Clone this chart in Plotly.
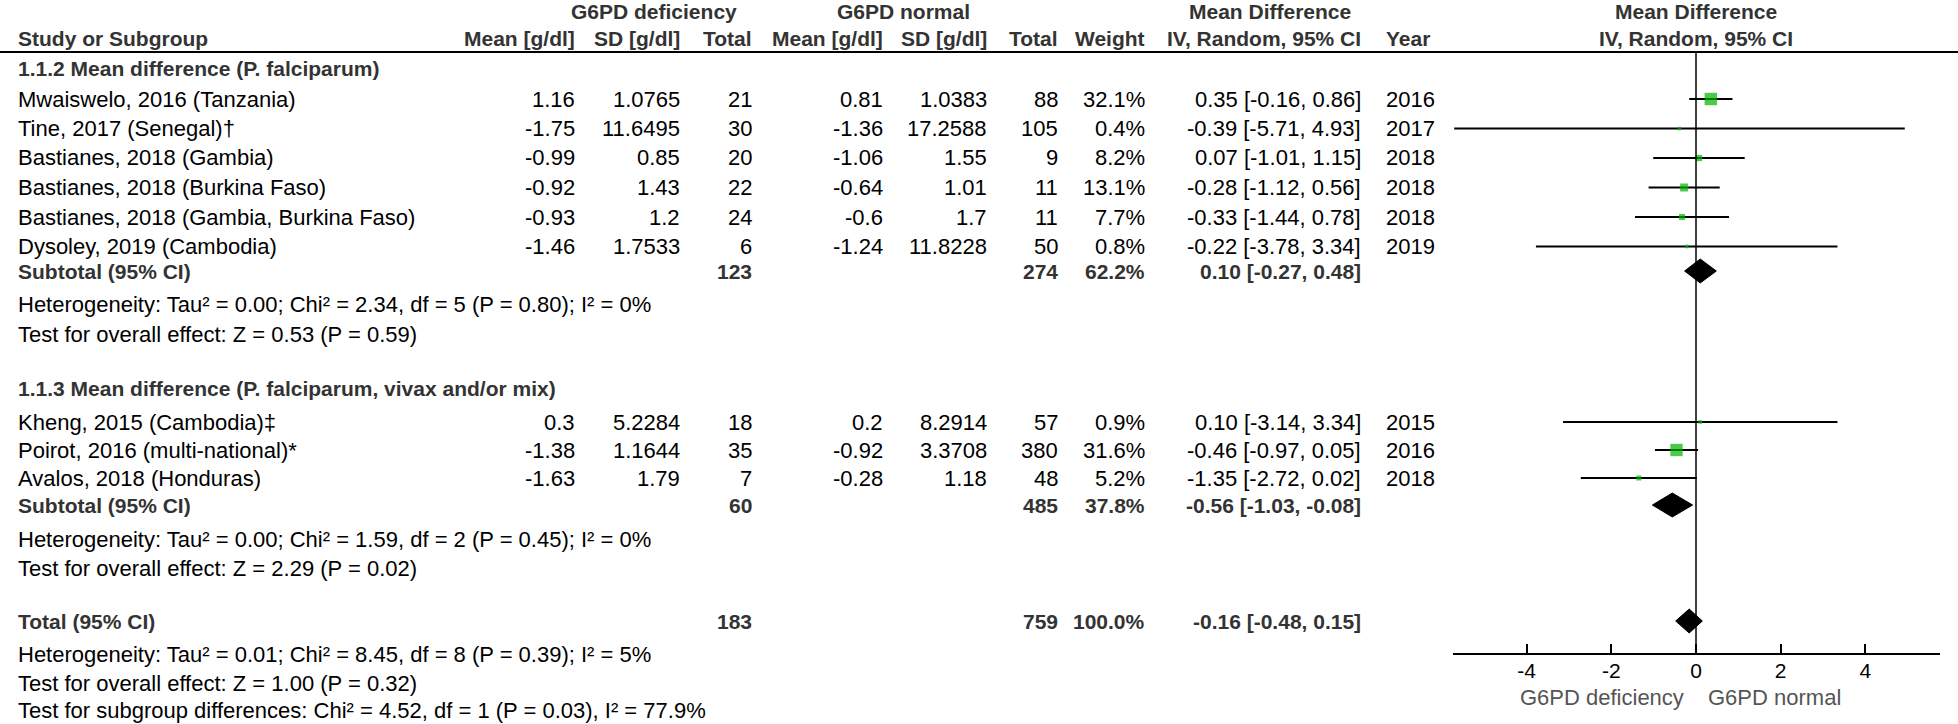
import plotly.graph_objects as go

W, H = 1958, 724

# ---------------- data ----------------
studies = ["Mwaiswelo, 2016 (Tanzania)", "Tine, 2017 (Senegal)†", "Bastianes, 2018 (Gambia)",
           "Bastianes, 2018 (Burkina Faso)", "Bastianes, 2018 (Gambia, Burkina Faso)",
           "Dysoley, 2019 (Cambodia)",
           "Kheng, 2015 (Cambodia)‡", "Poirot, 2016 (multi-national)*", "Avalos, 2018 (Honduras)"]
def_mean = ["1.16", "-1.75", "-0.99", "-0.92", "-0.93", "-1.46", "0.3", "-1.38", "-1.63"]
def_sd = ["1.0765", "11.6495", "0.85", "1.43", "1.2", "1.7533", "5.2284", "1.1644", "1.79"]
def_n = [21, 30, 20, 22, 24, 6, 18, 35, 7]
norm_mean = ["0.81", "-1.36", "-1.06", "-0.64", "-0.6", "-1.24", "0.2", "-0.92", "-0.28"]
norm_sd = ["1.0383", "17.2588", "1.55", "1.01", "1.7", "11.8228", "8.2914", "3.3708", "1.18"]
norm_n = [88, 105, 9, 11, 11, 50, 57, 380, 48]
weight = [32.1, 0.4, 8.2, 13.1, 7.7, 0.8, 0.9, 31.6, 5.2]
md = [0.35, -0.39, 0.07, -0.28, -0.33, -0.22, 0.10, -0.46, -1.35]
ci_lo = [-0.16, -5.71, -1.01, -1.12, -1.44, -3.78, -3.14, -0.97, -2.72]
ci_hi = [0.86, 4.93, 1.15, 0.56, 0.78, 3.34, 3.34, 0.05, 0.02]
year = [2016, 2017, 2018, 2018, 2018, 2019, 2015, 2016, 2018]

group_titles = ["1.1.2 Mean difference (P. falciparum)",
                "1.1.3 Mean difference (P. falciparum, vivax and/or mix)"]
sub_def_n = [123, 60]
sub_norm_n = [274, 485]
sub_weight = [62.2, 37.8]
sub_md = [0.10, -0.56]
sub_lo = [-0.27, -1.03]
sub_hi = [0.48, -0.08]
sub_het = ["Heterogeneity: Tau² = 0.00; Chi² = 2.34, df = 5 (P = 0.80); I² = 0%",
           "Heterogeneity: Tau² = 0.00; Chi² = 1.59, df = 2 (P = 0.45); I² = 0%"]
sub_test = ["Test for overall effect: Z = 0.53 (P = 0.59)",
            "Test for overall effect: Z = 2.29 (P = 0.02)"]

tot_def_n, tot_norm_n, tot_weight = 183, 759, 100.0
tot_md, tot_lo, tot_hi = -0.16, -0.48, 0.15
tot_notes = ["Heterogeneity: Tau² = 0.01; Chi² = 8.45, df = 8 (P = 0.39); I² = 5%",
             "Test for overall effect: Z = 1.00 (P = 0.32)",
             "Test for subgroup differences: Chi² = 4.52, df = 1 (P = 0.03), I² = 77.9%"]

ticks = [-4, -2, 0, 2, 4]
fav_left, fav_right = "G6PD deficiency", "G6PD normal"

# ---------------- layout (pixels) ----------------
FONT = "Liberation Sans, Arial, sans-serif"
FS = 22      # regular text
FB = 21      # bold text
BLACK, GREY, GREEN = "#000000", "#333333", "#00b400"
AXIS_Y = 653
col_right = {"dm": 577, "dsd": 682, "dn": 754, "nm": 885, "nsd": 989, "nn": 1060,
             "w": 1147, "ci": 1363}
YEAR_X = 1384
ZERO_X = 1696

# row positions (px from top)
y_top = 12
y_head = 38
y_title = [69, 388]
y_study = [99, 128.5, 158, 187.5, 217, 246.5, 422, 450, 478]
y_sub = [271, 505]
y_het = [304, 539]
y_test = [334, 568]
y_total = 621
y_tot_notes = [654, 683, 710]

fig = go.Figure()
ann = []


def txt(x, y, s, anchor="left", bold=False, color=BLACK):
    ann.append(dict(x=x / W, y=1 - y / H, xref="paper", yref="paper",
                    text=f"<b>{s}</b>" if bold else s,
                    showarrow=False, xanchor=anchor, yanchor="middle",
                    font=dict(family=FONT, size=FB if bold else FS, color=color)))


# header
txt(654, y_top, "G6PD deficiency", "center", True, GREY)
txt(903, y_top, "G6PD normal", "center", True, GREY)
txt(1270, y_top, "Mean Difference", "center", True, GREY)
txt(ZERO_X, y_top, "Mean Difference", "center", True, GREY)
txt(16, y_head, "Study or Subgroup", "left", True, GREY)
for key, lab in [("dm", "Mean [g/dl]"), ("dsd", "SD [g/dl]"), ("dn", "Total"),
                 ("nm", "Mean [g/dl]"), ("nsd", "SD [g/dl]"), ("nn", "Total"),
                 ("w", "Weight"), ("ci", "IV, Random, 95% CI")]:
    txt(col_right[key], y_head, lab, "right", True, GREY)
txt(YEAR_X, y_head, "Year", "left", True, GREY)
txt(ZERO_X, y_head, "IV, Random, 95% CI", "center", True, GREY)

# study rows
for i, name in enumerate(studies):
    y = y_study[i]
    txt(16, y, name)
    txt(col_right["dm"], y, def_mean[i], "right")
    txt(col_right["dsd"], y, def_sd[i], "right")
    txt(col_right["dn"], y, str(def_n[i]), "right")
    txt(col_right["nm"], y, norm_mean[i], "right")
    txt(col_right["nsd"], y, norm_sd[i], "right")
    txt(col_right["nn"], y, str(norm_n[i]), "right")
    txt(col_right["w"], y, f"{weight[i]:.1f}%", "right")
    txt(col_right["ci"], y, f"{md[i]:.2f} [{ci_lo[i]:.2f}, {ci_hi[i]:.2f}]", "right")
    txt(YEAR_X, y, str(year[i]), "left")

# subgroup rows
for g in range(2):
    txt(16, y_title[g], group_titles[g], "left", True, GREY)
    ys = y_sub[g]
    txt(16, ys, "Subtotal (95% CI)", "left", True, GREY)
    txt(col_right["dn"], ys, str(sub_def_n[g]), "right", True, GREY)
    txt(col_right["nn"], ys, str(sub_norm_n[g]), "right", True, GREY)
    txt(col_right["w"], ys, f"{sub_weight[g]:.1f}%", "right", True, GREY)
    txt(col_right["ci"], ys, f"{sub_md[g]:.2f} [{sub_lo[g]:.2f}, {sub_hi[g]:.2f}]", "right", True, GREY)
    txt(16, y_het[g], sub_het[g])
    txt(16, y_test[g], sub_test[g])

txt(16, y_total, "Total (95% CI)", "left", True, GREY)
txt(col_right["dn"], y_total, str(tot_def_n), "right", True, GREY)
txt(col_right["nn"], y_total, str(tot_norm_n), "right", True, GREY)
txt(col_right["w"], y_total, f"{tot_weight:.1f}%", "right", True, GREY)
txt(col_right["ci"], y_total, f"{tot_md:.2f} [{tot_lo:.2f}, {tot_hi:.2f}]", "right", True, GREY)
for k, s in enumerate(tot_notes):
    txt(16, y_tot_notes[k], s)

txt(ZERO_X - 10, 697, fav_left, "right", False, "#555555")
txt(ZERO_X + 10, 697, fav_right, "left", False, "#555555")

# ---------------- forest marks ----------------
cx, cy = [], []
for i in range(len(studies)):
    cx += [ci_lo[i], ci_hi[i], None]
    cy += [y_study[i], y_study[i], None]
fig.add_trace(go.Scatter(x=cx, y=cy, mode="lines", line=dict(color=BLACK, width=2),
                         hoverinfo="skip", showlegend=False))
fig.add_trace(go.Scatter(x=md, y=y_study, mode="markers",
                         marker=dict(symbol="square", color=GREEN, line=dict(width=0),
                                     size=[max(3.5, 2.2 * w ** 0.5) for w in weight]),
                         showlegend=False))

DH = 12
for lo, mid, hi, yc in zip(sub_lo + [tot_lo], sub_md + [tot_md], sub_hi + [tot_hi], y_sub + [y_total]):
    fig.add_trace(go.Scatter(x=[lo, mid, hi, mid, lo], y=[yc, yc - DH, yc, yc + DH, yc],
                             mode="lines", fill="toself", fillcolor=BLACK,
                             line=dict(color=BLACK, width=1), showlegend=False, hoverinfo="skip"))

shapes = [
    dict(type="line", xref="paper", yref="y", x0=0, x1=1, y0=52, y1=52,
         line=dict(color=BLACK, width=2)),
    dict(type="line", xref="x", yref="y", x0=0, x1=0, y0=52, y1=AXIS_Y,
         line=dict(color=BLACK, width=1.5)),
]

fig.update_layout(
    width=W, height=H, margin=dict(l=0, r=0, t=0, b=0),
    paper_bgcolor="white", plot_bgcolor="white",
    annotations=ann, shapes=shapes,
    xaxis=dict(domain=[1452.5 / W, 1939.5 / W], range=[-5.75, 5.75],
               showgrid=False, zeroline=False, showline=True, linecolor=BLACK, linewidth=2,
               ticks="inside", ticklen=9, tickwidth=2, tickcolor=BLACK,
               tickvals=ticks, ticktext=[str(t) for t in ticks], ticklabelstandoff=-2,
               tickfont=dict(family=FONT, size=21, color=BLACK)),
    yaxis=dict(domain=[(H - AXIS_Y) / H, 1], range=[AXIS_Y, 0], visible=False,
               showgrid=False, zeroline=False),
)

fig.write_html("out.html", config={"displayModeBar": False},
               post_script="document.body.style.margin='0';")
